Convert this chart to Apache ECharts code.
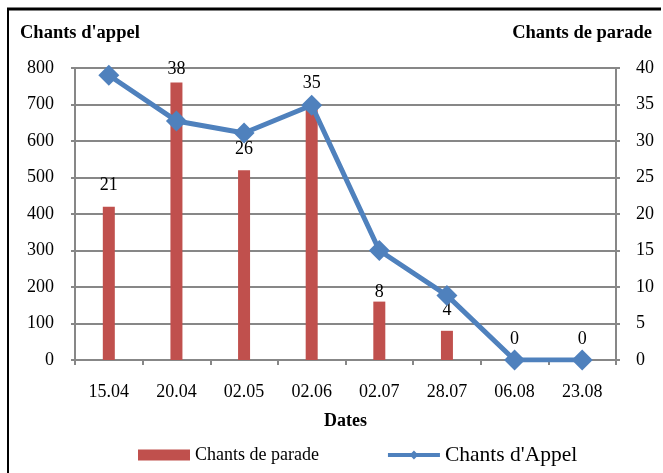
<!DOCTYPE html>
<html>
<head>
<meta charset="utf-8">
<script src="https://cdn.jsdelivr.net/npm/echarts@6/dist/echarts.min.js"></script>
<style>html,body{margin:0;padding:0;background:#fff}#c{width:663px;height:473px}</style>
</head>
<body>
<div id="c"></div>
<script>
const categories = ['15.04','20.04','02.05','02.06','02.07','28.07','06.08','23.08'];
const paradeValues = [21, 38, 26, 35, 8, 4, 0, 0];       // Chants de parade (right axis)
const appelValues = [780, 655, 622, 698, 300, 177, 0, 0];  // Chants d'Appel (left axis)
const leftTicks = [0, 800, 100];   // min, max, interval
const rightTicks = [0, 40, 5];

const FONT = '"Liberation Serif", "Times New Roman", serif';
const labelDistance = {1: 4, 4: 0};
const barData = paradeValues.map((v, i) => labelDistance[i] !== undefined
  ? {value: v, label: {distance: labelDistance[i]}} : v);

const chart = echarts.init(document.getElementById('c'), null, {renderer: 'canvas'});
chart.setOption({
  animation: false,
  backgroundColor: '#fff',
  textStyle: {fontFamily: FONT},
  title: [
    {text: "Chants d'appel", left: 15, top: 19, textStyle: {fontFamily: FONT, fontSize: 18.5, fontWeight: 'bold', color: '#000'}},
    {text: 'Chants de parade', right: 6, top: 19, textStyle: {fontFamily: FONT, fontSize: 18.5, fontWeight: 'bold', color: '#000'}}
  ],
  graphic: [
    {type: 'line', shape: {x1: 7, y1: 9, x2: 661, y2: 9}, style: {stroke: '#000', lineWidth: 3}},
    {type: 'line', shape: {x1: 8, y1: 8, x2: 8, y2: 480}, style: {stroke: '#000', lineWidth: 2}}
  ],
  grid: {left: 75, right: 47, top: 68, bottom: 113, containLabel: false},
  legend: {
    left: 133, top: 439,
    itemWidth: 52, itemHeight: 11, itemGap: 67,
    textStyle: {fontFamily: FONT, fontSize: 18, color: '#000'},
    data: [
      {name: 'Chants de parade', icon: 'rect'},
      {name: "Chants d'Appel", textStyle: {fontSize: 21.5}, lineStyle: {width: 4}}
    ]
  },
  xAxis: {
    type: 'category', data: categories,
    name: 'Dates', nameLocation: 'middle', nameGap: 52,
    nameTextStyle: {fontFamily: FONT, fontSize: 18, fontWeight: 'bold', color: '#000'},
    axisLine: {lineStyle: {color: '#878787', width: 2}},
    axisTick: {show: true, inside: false, length: 5, lineStyle: {color: '#878787', width: 2}},
    axisLabel: {fontFamily: FONT, fontSize: 18, color: '#000', margin: 23}
  },
  yAxis: [
    {
      type: 'value', min: leftTicks[0], max: leftTicks[1], interval: leftTicks[2], position: 'left',
      axisLine: {show: true, lineStyle: {color: '#878787', width: 2}},
      axisTick: {show: true, length: 4, lineStyle: {color: '#878787', width: 2}},
      splitLine: {show: true, lineStyle: {color: '#878787', width: 2}},
      axisLabel: {fontFamily: FONT, fontSize: 18, color: '#000', margin: 21}
    },
    {
      type: 'value', min: rightTicks[0], max: rightTicks[1], interval: rightTicks[2], position: 'right',
      axisLine: {show: true, lineStyle: {color: '#878787', width: 2}},
      axisTick: {show: true, length: 4, lineStyle: {color: '#878787', width: 2}},
      splitLine: {show: false},
      axisLabel: {fontFamily: FONT, fontSize: 18, color: '#000', margin: 20}
    }
  ],
  series: [
    {
      name: 'Chants de parade', type: 'bar', yAxisIndex: 1, data: barData,
      barWidth: 12, itemStyle: {color: '#C0504D'},
      label: {show: true, position: 'top', distance: 12, fontFamily: FONT, fontSize: 18, color: '#000'},
      z: 2
    },
    {
      name: "Chants d'Appel", type: 'line', yAxisIndex: 0, data: appelValues,
      symbol: 'diamond', symbolSize: 21, showAllSymbol: true,
      lineStyle: {color: '#4F81BD', width: 5},
      itemStyle: {color: '#4F81BD'},
      z: 3
    }
  ]
});
</script>
</body>
</html>
